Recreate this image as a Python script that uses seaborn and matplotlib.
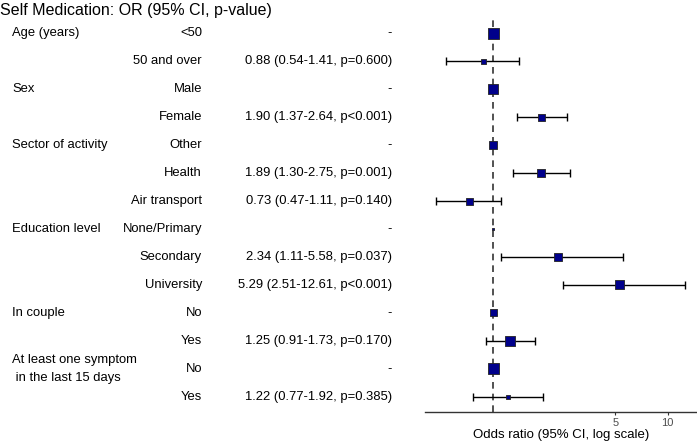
import numpy as np
import pandas as pd
import matplotlib
matplotlib.use("Agg")
import matplotlib.pyplot as plt
import matplotlib.transforms as mtransforms
import seaborn as sns

# ---- data ----
variables = ["Age (years)", "", "Sex", "", "Sector of activity", "", "",
             "Education level", "", "", "In couple", "",
             "At least one symptom\n in the last 15 days", ""]
levels = ["<50", "50 and over", "Male", "Female", "Other", "Health", "Air transport",
          "None/Primary", "Secondary", "University", "No", "Yes", "No", "Yes"]
odds_ratio = [1, 0.88, 1, 1.90, 1, 1.89, 0.73, 1, 2.34, 5.29, 1, 1.25, 1, 1.22]
ci_lower = [np.nan, 0.54, np.nan, 1.37, np.nan, 1.30, 0.47, np.nan, 1.11, 2.51,
            np.nan, 0.91, np.nan, 0.77]
ci_upper = [np.nan, 1.41, np.nan, 2.64, np.nan, 2.75, 1.11, np.nan, 5.58, 12.61,
            np.nan, 1.73, np.nan, 1.92]
or_text = ["-", "0.88 (0.54-1.41, p=0.600)", "-", "1.90 (1.37-2.64, p<0.001)",
           "-", "1.89 (1.30-2.75, p=0.001)", "0.73 (0.47-1.11, p=0.140)",
           "-", "2.34 (1.11-5.58, p=0.037)", "5.29 (2.51-12.61, p<0.001)",
           "-", "1.25 (0.91-1.73, p=0.170)", "-", "1.22 (0.77-1.92, p=0.385)"]
box_weight = [11, 5, 10, 7, 8, 8, 7, 2, 8, 9, 7, 10, 11, 4]
x_ticks = [5, 10]
title = "Self Medication: OR (95% CI, p-value)"
x_label = "Odds ratio (95% CI, log scale)"

df = pd.DataFrame({"var": variables, "level": levels, "OR": odds_ratio,
                   "lo": ci_lower, "hi": ci_upper, "txt": or_text,
                   "box": box_weight})
df["row"] = np.arange(len(df))
df["area"] = (df["box"] * 0.72) ** 2

sns.set_style("white")
plt.rcParams["font.family"] = ["Liberation Sans", "DejaVu Sans"]
plt.rcParams["text.color"] = "black"
plt.rcParams["axes.labelcolor"] = "black"

W, H = 697, 443
fig = plt.figure(figsize=(W / 100, H / 100), dpi=100)
ax = fig.add_axes([425 / W, (H - 412) / H, (697 - 425) / W, (412 - 18) / H])

# error bars
m = df["lo"].notna()
ax.errorbar(df.loc[m, "OR"], df.loc[m, "row"],
            xerr=[df.loc[m, "OR"] - df.loc[m, "lo"], df.loc[m, "hi"] - df.loc[m, "OR"]],
            fmt="none", ecolor="black", elinewidth=1.0, capsize=3, capthick=1.0, zorder=2)
ax.axvline(1, color="#333333", lw=1.2, ls=(0, (4, 3)), zorder=1)
sns.scatterplot(data=df, x="OR", y="row", s=df["area"], marker="s",
                color="#00008B", edgecolor="#222222", linewidth=0.6, ax=ax,
                zorder=3, legend=False)

ax.set_xscale("log")
ax.set_xlim(0.408, 14.7)
ax.set_ylim(13.54, -0.54)
ax.set_xticks(x_ticks)
ax.set_xticklabels([str(t) for t in x_ticks], fontsize=8, color="#4d4d4d")
ax.xaxis.set_minor_locator(matplotlib.ticker.NullLocator())
ax.tick_params(axis="x", length=2, width=0.8, color="#333333", pad=2, bottom=True)
ax.set_yticks([])
ax.set_xlabel(x_label, fontsize=9.5, labelpad=1)
ax.set_ylabel("")
for s in ["top", "right", "left"]:
    ax.spines[s].set_visible(False)
ax.spines["bottom"].set_color("#333333")
ax.spines["bottom"].set_linewidth(1.0)

# text table
tr = mtransforms.blended_transform_factory(fig.transFigure, ax.transData)
for _, r in df.iterrows():
    if r["var"]:
        ax.text(12 / W, r["row"], r["var"], transform=tr, ha="left", va="center",
                fontsize=9.4, clip_on=False, linespacing=1.7)
    ax.text(202 / W, r["row"], r["level"], transform=tr, ha="right", va="center",
            fontsize=9.4, clip_on=False)
    ax.text(392 / W, r["row"], r["txt"], transform=tr, ha="right", va="center",
            fontsize=9.4, clip_on=False)

fig.text(0 / W, 1 - 10 / H, title, ha="left", va="center", fontsize=11.5)

fig.savefig("out.png", dpi=100)
